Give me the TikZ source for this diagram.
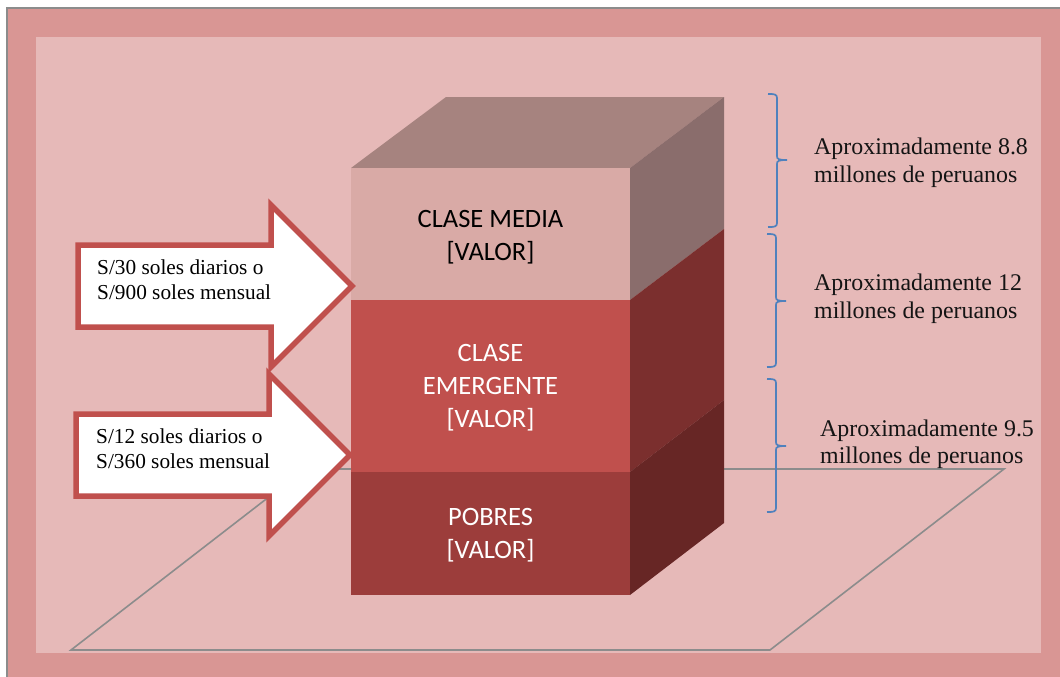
\documentclass[tikz,border=0pt]{standalone}
\usepackage{fontspec}
\setmainfont{Liberation Serif}
\newfontfamily\calfont{Carlito}
\definecolor{outerbg}{HTML}{D99694}
\definecolor{innerbg}{HTML}{E6B9B8}
\definecolor{mediafront}{HTML}{D9AAA6}
\definecolor{mediatop}{HTML}{A6837F}
\definecolor{mediaside}{HTML}{8A6D6C}
\definecolor{emerfront}{HTML}{C0504D}
\definecolor{emerside}{HTML}{7B2F2E}
\definecolor{pobrefront}{HTML}{9C3D3B}
\definecolor{pobreside}{HTML}{672625}
\definecolor{bracecol}{HTML}{4F81BD}
\tikzset{
  x=1pt,y=-1pt,
  arrowshape/.style={draw=emerfront,fill=white,line width=5.5pt,miter limit=10},
  bracket/.style={draw=bracecol,line width=1.7pt},
  planeline/.style={draw=black!45,line width=1.6pt},
  seriflabel/.style={inner sep=0pt,align=left,anchor=north west,text=black!92,font=\fontsize{23.9}{27.5}\selectfont},
  arrowlabel/.style={inner sep=0pt,align=left,anchor=north west,text=black,font=\fontsize{21.3}{25}\selectfont},
  cubelabel/.style={inner sep=0pt,align=center,font=\calfont\fontsize{26.5}{33}\selectfont},
}
\begin{document}
\begin{tikzpicture}
\useasboundingbox (0,0) rectangle (1060,677);
\fill[white] (0,0) rectangle (1060,677);
\fill[outerbg] (7,8) rectangle (1060,677);
\draw[black!45,line width=1.6pt] (7,677) -- (7,8) -- (1060,8);
\fill[innerbg] (36,37) rectangle (1041,653);
% plane
\draw[planeline] (71,650) -- (305,469) -- (1004,469) -- (770,650) -- cycle;
% cube
\fill[mediatop] (351,168) -- (446,97) -- (724,97) -- (630,168) -- cycle;
\fill[mediaside] (630,168) -- (724,97) -- (724,229) -- (630,300) -- cycle;
\fill[emerside] (630,300) -- (724,229) -- (724,400) -- (630,472) -- cycle;
\fill[pobreside] (630,472) -- (724,400) -- (724,523) -- (630,595) -- cycle;
\fill[mediafront] (351,168) rectangle (630,300);
\fill[emerfront] (351,300) rectangle (630,472);
\fill[pobrefront] (351,472) rectangle (630,595);
\node[cubelabel,text=black] (media) at (490.5,237) {CLASE MEDIA\\{[}VALOR{]}};
\node[cubelabel,text=white] (emergente) at (490.5,388) {CLASE\\EMERGENTE\\{[}VALOR{]}};
\node[cubelabel,text=white] (pobres) at (490.5,535) {POBRES\\{[}VALOR{]}};
% arrows
\draw[arrowshape] (78,245) -- (271,245) -- (271,205) -- (352,286) -- (271,367) -- (271,327) -- (78,327) -- cycle;
\draw[arrowshape] (76,414) -- (269,414) -- (269,374) -- (350,455) -- (269,536) -- (269,496) -- (76,496) -- cycle;
\node[arrowlabel] (t1) at (97,260) {S/30 soles diarios o\\S/900 soles mensual};
\node[arrowlabel] (t2) at (96,429) {S/12 soles diarios o\\S/360 soles mensual};
% braces
\draw[bracket] (768,94) .. controls (774,94) and (777,94) .. (777,98) -- (777,156) .. controls (777,159) and (778,160) .. (787,160) .. controls (778,160) and (777,161) .. (777,164) -- (777,223) .. controls (777,227) and (774,227) .. (768,227);
\draw[bracket] (767,234) .. controls (773,234) and (776,234) .. (776,238) -- (776,297) .. controls (776,300) and (777,301) .. (786,301) .. controls (777,301) and (776,302) .. (776,305) -- (776,363) .. controls (776,367) and (773,367) .. (767,367);
\draw[bracket] (767,379) .. controls (773,379) and (776,379) .. (776,383) -- (776,442) .. controls (776,445) and (777,446) .. (786,446) .. controls (777,446) and (776,447) .. (776,450) -- (776,508) .. controls (776,512) and (773,512) .. (767,512);
% labels
\node[seriflabel] (l1) at (814,138) {Aproximadamente 8.8\\millones de peruanos};
\node[seriflabel] (l2) at (814,274) {Aproximadamente 12\\millones de peruanos};
\node[seriflabel] (l3) at (820,419.5) {Aproximadamente 9.5\\millones de peruanos};
\end{tikzpicture}
\end{document}
